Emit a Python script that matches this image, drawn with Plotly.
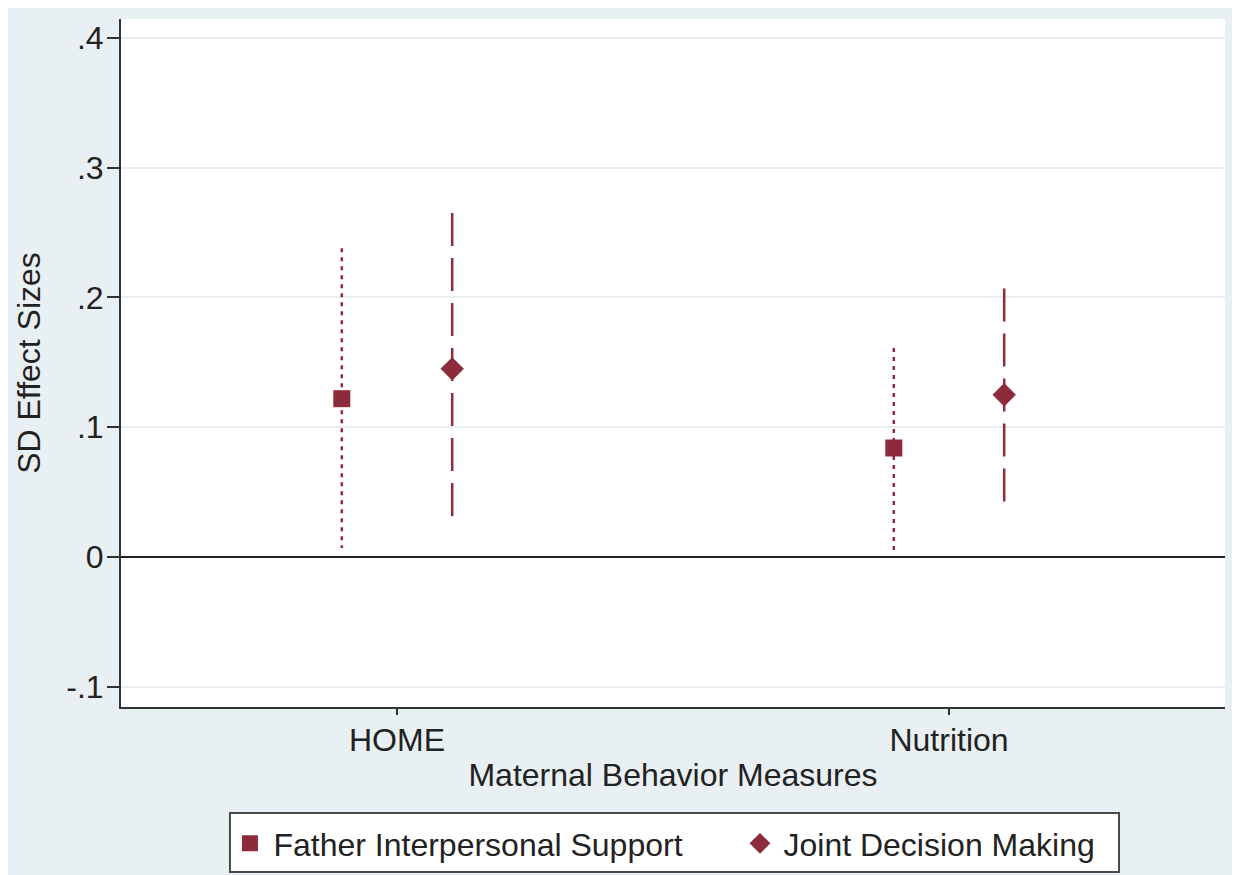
import plotly.graph_objects as go

categories = ["HOME", "Nutrition"]
series_names = ["Father Interpersonal Support", "Joint Decision Making"]
father_est = [0.122, 0.084]
father_lo = [0.007, 0.004]
father_hi = [0.238, 0.161]
joint_est = [0.145, 0.125]
joint_lo = [0.024, 0.035]
joint_hi = [0.265, 0.207]
y_tick_vals = [-0.1, 0, 0.1, 0.2, 0.3, 0.4]
y_tick_text = ["-.1", "0", ".1", ".2", ".3", ".4"]

COLOR = "#8e2b3b"
FONT = "Liberation Sans, Arial, sans-serif"
BG = "#e9f0f3"
OFFSET = 0.1
base = list(range(1, len(categories) + 1))

series = [
    (series_names[0], father_est, father_lo, father_hi, -OFFSET, "square", 17, "4px,5px", "legend"),
    (series_names[1], joint_est, joint_lo, joint_hi, OFFSET, "diamond", 18, "33px,12px", "legend2"),
]

fig = go.Figure()
for name, est, lo, hi, off, sym, msize, dash, lg in series:
    xs, ys = [], []
    for b, l, h in zip(base, lo, hi):
        xs += [b + off, b + off, None]
        ys += [h, l, None]
    fig.add_trace(go.Scatter(x=xs, y=ys, mode="lines", showlegend=False,
                             line=dict(color=COLOR, width=2.5, dash=dash), hoverinfo="skip"))
for name, est, lo, hi, off, sym, msize, dash, lg in series:
    fig.add_trace(go.Scatter(x=[b + off for b in base], y=est, mode="markers", name=name,
                             legend=lg,
                             marker=dict(symbol=sym, size=msize, color=COLOR)))

legend_common = dict(orientation="h", xanchor="left", y=-0.1584, yanchor="top",
                     bgcolor="rgba(0,0,0,0)", borderwidth=0,
                     font=dict(size=32, family=FONT, color="#222222"), itemwidth=37)

fig.update_layout(
    width=1228, height=880,
    margin=dict(l=113, r=11, t=11, b=181),
    paper_bgcolor=BG, plot_bgcolor="white",
    font=dict(family=FONT, size=32, color="#222222"),
    shapes=[dict(type="rect", xref="paper", yref="paper", x0=0.0987, x1=0.904,
                 y0=-0.2398, y1=-0.1541, fillcolor="white",
                 line=dict(width=2, color="#4a4a4a"), layer="below")],
    legend=dict(x=0.0955, **legend_common),
    legend2=dict(x=0.5575, **legend_common),
    showlegend=True,
)
fig.update_xaxes(range=[0.5, 2.5], tickvals=base, ticktext=categories,
                 showgrid=False, zeroline=False, showline=True, linecolor="#333333", linewidth=2,
                 ticks="outside", ticklen=6, tickcolor="#333333", tickwidth=1.5,
                 ticklabelstandoff=-2,
                 title=dict(text="Maternal Behavior Measures", standoff=6, font=dict(size=32)),
                 tickfont=dict(size=32), automargin=False)
fig.update_yaxes(range=[-0.1156, 0.4146], tickvals=y_tick_vals, ticktext=y_tick_text,
                 showgrid=True, gridcolor="#e6eef1", gridwidth=1.5,
                 zeroline=True, zerolinecolor="#222222", zerolinewidth=2,
                 showline=True, linecolor="#333333", linewidth=2,
                 ticks="outside", ticklen=12, tickcolor="#333333", tickwidth=1.5,
                 ticklabelstandoff=-3,
                 title=dict(text="SD Effect Sizes", standoff=16, font=dict(size=32)),
                 tickfont=dict(size=32), automargin=False)

fig.write_html("out.html")
